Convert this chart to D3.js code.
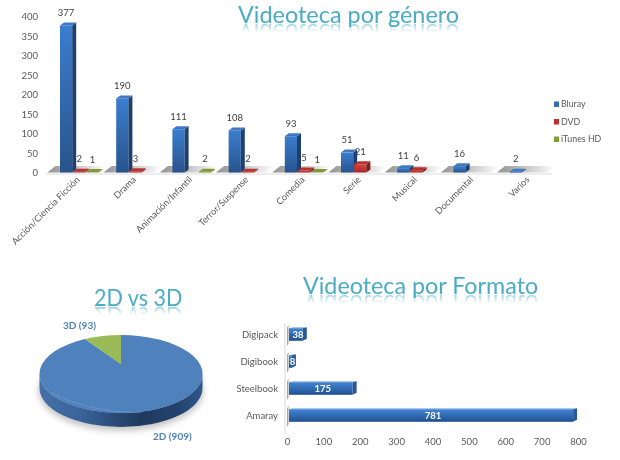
<!DOCTYPE html>
<html><head><meta charset="utf-8">
<script src="https://cdnjs.cloudflare.com/ajax/libs/d3/7.8.5/d3.min.js"></script>
<style>
html,body{margin:0;padding:0;background:#fff;width:620px;height:460px;overflow:hidden}
#wrap{position:relative;width:620px;height:460px;filter:blur(.35px)}
svg{position:absolute;left:0;top:0}
.title{position:absolute;font-family:Lato,sans-serif;font-weight:400;color:#4bacc6;line-height:1;white-space:nowrap;transform-origin:left center;
-webkit-box-reflect:below -5px linear-gradient(to bottom,rgba(0,0,0,0) 50%,rgba(0,0,0,.6) 92%);}
text{font-family:Lato,sans-serif}
</style></head><body><div id="wrap"></div>
<script>
const genreCategories=["Acción/Ciencia Ficción","Drama","Animación/Infantil","Terror/Suspense","Comedia","Serie","Musical","Documental","Varios"];
const bluray=[377,190,111,108,93,51,11,16,2];
const dvd=[2,3,null,2,5,21,6,null,null];
const itunes=[1,null,2,null,1,null,null,null,null];
const seriesNames=["Bluray","DVD","iTunes HD"];
const genreTicks=[0,50,100,150,200,250,300,350,400];
const pieLabels=["2D (909)","3D (93)"];
const pieValues=[909,93];
const formatCategories=["Amaray","Steelbook","Digibook","Digipack"];
const formatValues=[781,175,8,38];
const formatTicks=[0,100,200,300,400,500,600,700,800];

const wrap=d3.select("#wrap");
const svg=wrap.append("svg").attr("width",620).attr("height",460);
const defs=svg.append("defs");
function vgrad(id,stops,horizontal){
  const g=defs.append("linearGradient").attr("id",id).attr("x1",0).attr("y1",0)
    .attr("x2",horizontal?1:0).attr("y2",horizontal?0:1);
  stops.forEach(s=>g.append("stop").attr("offset",s[0]).attr("stop-color",s[1]).attr("stop-opacity",s[2]===undefined?1:s[2]));
}
const palette=[
 {front:"bluF",top:"#3f78c2",side:"#1f3f6e",key:"#2f6db5"},
 {front:"redF",top:"#b8322e",side:"#7c1f1d",key:"#c0302c"},
 {front:"grnF",top:"#7f9a35",side:"#55701f",key:"#7f9f30"}];
vgrad("bluF",[[0,"#3b7dcf"],[1,"#28548c"]]);
vgrad("redF",[[0,"#d8403c"],[1,"#a82a28"]]);
vgrad("grnF",[[0,"#9aba45"],[1,"#72902a"]]);
vgrad("hBar",[[0,"#4585d2"],[.25,"#3a78c6"],[1,"#20508f"]]);
vgrad("floor",[[0,"#929292"],[.55,"#cbcbcb"],[1,"#ffffff"]],true);
vgrad("wall",[[0,"#777777",.85],[1,"#ffffff",0]],true);
vgrad("pieSide",[[0,"#4472a8"],[.25,"#3a639a"],[.62,"#1f3a60"],[.85,"#23426c"],[1,"#30598c"]],true);
defs.append("filter").attr("id","blur").attr("x","-20%").attr("y","-20%").attr("width","140%").attr("height","140%")
  .append("feGaussianBlur").attr("stdDeviation",3);

function addTitle(t,x,y,w){
  const el=wrap.append("div").attr("class","title").style("left",x+"px").style("top",y+"px").style("font-size","23px").text(t);
  el.style("transform","scaleX("+(w/el.node().offsetWidth)+")");
}
addTitle("Videoteca por género",238,2.6,221);
addTitle("2D vs 3D",94,285.6,88);
addTitle("Videoteca por Formato",303,273.6,235);

// ---- columns
const gray="#595959";
const depth=4,rise=3;
const gx=d3.scaleBand().domain(genreCategories).range([51.4,557.2]);
const sx=d3.scaleBand().domain(seriesNames).range([8.6,48.2]).paddingInner(0);
const gy=d3.scaleLinear().domain([0,400]).range([172.5,16.5]);
const colG=svg.append("g");
colG.selectAll("path.floor").data(genreCategories).join("path").attr("class","floor")
  .attr("fill","url(#floor)")
  .attr("d",d=>{const x=gx(d)-4;const w=gx.step()+2;return `M${x},172.5L${x+8},166L${x+w},166L${x+w-8},172.5Z`;});
colG.append("line").attr("x1",46).attr("x2",552).attr("y1",174).attr("y2",174).attr("stroke","#dcdcdc").attr("stroke-width",1);
const barsData=[bluray,dvd,itunes];
barsData.forEach((vals,si)=>{
  vals.forEach((v,ci)=>{
    if(v==null)return;
    const x=gx(genreCategories[ci])+sx(seriesNames[si]);
    const w=sx.bandwidth()-1,y0=gy(0),y1=gy(v),p=palette[si];
    const g=colG.append("g");
    g.append("rect").attr("x",x).attr("y",y1).attr("width",w).attr("height",y0-y1).attr("fill","url(#"+p.front+")");
    g.append("path").attr("fill",p.side).attr("d",`M${x+w},${y1}l${depth},${-rise}V${y0-rise}l${-depth},${rise}Z`);
    g.append("path").attr("fill",p.top).attr("d",`M${x},${y1}l${depth},${-rise}h${w}l${-depth},${rise}Z`);
    colG.append("text").attr("x",x+w/2).attr("y",y1-9.5).attr("text-anchor","middle").attr("font-size",9.5).attr("fill","#404040").text(v);
  });
});
const yAxis=d3.axisLeft(gy).tickValues(genreTicks).tickSize(0).tickPadding(0);
const yg=colG.append("g").attr("transform","translate(38,0)").call(yAxis);
yg.select(".domain").remove();
yg.selectAll("text").attr("font-size",9.5).attr("fill",gray).attr("font-family","Lato,sans-serif");
const xAxis=d3.axisBottom(gx).tickSize(0).tickPadding(0);
const xg=colG.append("g").attr("transform","translate(-0.5,176)").call(xAxis);
xg.select(".domain").remove();
xg.selectAll("text").attr("font-size",9.2).attr("fill",gray).attr("font-family","Lato,sans-serif")
  .attr("text-anchor","end").attr("dy",0).attr("y",4).attr("x",-2).attr("transform","rotate(-45)");
const legY=d3.scalePoint().domain(seriesNames).range([104,139]);
seriesNames.forEach((n,i)=>{
  const y=legY(n);
  colG.append("rect").attr("x",554).attr("y",y-2.5).attr("width",5).attr("height",5.5).attr("fill",palette[i].key);
  colG.append("text").attr("x",561).attr("y",y+3).attr("font-size",8.8).attr("fill",gray).text(n);
});

// ---- pie
const P={cx:121,cy:374,rx:81.5,ry:39,d:.25,h:14};
const pieG=svg.append("g");
pieG.append("ellipse").attr("cx",P.cx).attr("cy",P.cy+P.h+3).attr("rx",P.rx+1).attr("ry",P.ry+1).attr("fill","#c4c4c4").attr("filter","url(#blur)");
function proj(a){
  const u=Math.sin(a),v=Math.cos(a),den=1+P.d*v;
  return [P.cx+P.rx*u*Math.sqrt(1-P.d*P.d)/den, P.cy-P.ry*(v+P.d)/den];
}
const apex=[P.cx,P.cy-P.ry*P.d];
pieG.append("path").attr("fill","url(#pieSide)")
  .attr("d",`M${P.cx-P.rx},${P.cy}A${P.rx},${P.ry} 0 0 0 ${P.cx+P.rx},${P.cy}V${P.cy+P.h}A${P.rx},${P.ry} 0 0 1 ${P.cx-P.rx},${P.cy+P.h}Z`);
const arcs=d3.pie().sort(null)(pieValues);
const pieColors=["#4f81bd","#9bbb59"];
arcs.forEach((a,i)=>{
  const s=proj(a.startAngle),e=proj(a.endAngle),large=(a.endAngle-a.startAngle)>Math.PI?1:0;
  pieG.append("path").attr("fill",pieColors[i])
   .attr("d",`M${apex}L${s}A${P.rx},${P.ry} 0 ${large} 1 ${e}Z`);
});
pieG.append("path").attr("fill","none").attr("stroke","#7ba3d4").attr("stroke-opacity",.55).attr("stroke-width",1)
  .attr("d",`M${P.cx-P.rx+12},${P.cy+19}Q${P.cx-30},${P.cy+P.ry} ${P.cx+20},${P.cy+P.ry-.5}`);
pieG.append("text").attr("x",153).attr("y",440).attr("font-size",10).attr("font-weight",700).attr("fill","#4f81bd").text(pieLabels[0]);
pieG.append("text").attr("x",63).attr("y",329).attr("font-size",10).attr("font-weight",700).attr("fill","#4f81bd").text(pieLabels[1]);

// ---- horizontal bars
const fx=d3.scaleLinear().domain([0,800]).range([287,578]);
const fy=d3.scaleBand().domain(formatCategories).range([429,321]);
const bot=svg.append("g");
bot.append("line").attr("x1",285).attr("x2",285).attr("y1",323).attr("y2",433).attr("stroke","#d9d9d9");
formatCategories.forEach((c,i)=>{
  const y=fy(c)+7.2,h=12.6,x0=fx(0)+2,x1=fx(formatValues[i])+2;
  bot.append("path").attr("fill","url(#wall)").attr("d",`M${x0-2},${y+h+5}V${y-1}l4,-5V${y+h}Z`);
  bot.append("path").attr("fill","#8fb4e2").attr("d",`M${x0},${y}l${depth},-1H${x1+depth}l${-depth},1Z`);
  bot.append("rect").attr("x",x0).attr("y",y).attr("width",x1-x0).attr("height",h).attr("fill","url(#hBar)");
  bot.append("path").attr("fill","#2a5a96").attr("d",`M${x1},${y}l${depth},-1V${y+h-2}l${-depth},2Z`);
  bot.append("text").attr("x",(x0+x1+depth)/2).attr("y",y+h/2+3.2).attr("text-anchor","middle").attr("font-size",9.5).attr("font-weight",700).attr("fill","#fff").text(formatValues[i]);
});
const fyAxis=d3.axisLeft(fy).tickSize(0).tickPadding(0);
const fyg=bot.append("g").attr("transform","translate(278,0)").call(fyAxis);
fyg.select(".domain").remove();
fyg.selectAll("text").attr("font-size",9.5).attr("fill",gray).attr("font-family","Lato,sans-serif");
const fxAxis=d3.axisBottom(fx).tickValues(formatTicks).tickSize(0).tickPadding(0);
const fxg=bot.append("g").attr("transform","translate(0,438)").call(fxAxis);
fxg.select(".domain").remove();
fxg.selectAll("text").attr("font-size",9.5).attr("fill",gray).attr("font-family","Lato,sans-serif");
</script></body></html>
